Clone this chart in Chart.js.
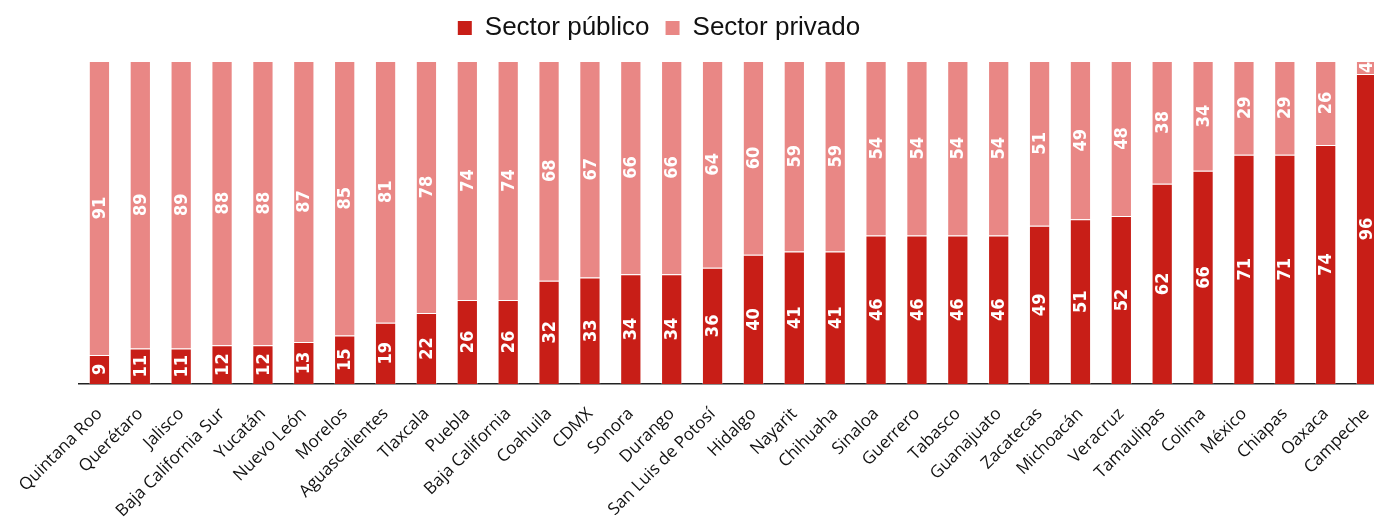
<!DOCTYPE html>
<html>
<head>
<meta charset="utf-8">
<script src="https://cdn.jsdelivr.net/npm/chart.js@4"></script>
<style>
  html, body { margin: 0; padding: 0; background: #fff; overflow: hidden; }
  #wrap { position: relative; width: 1401px; height: 545px; }
</style>
</head>
<body>
<div id="wrap"><canvas id="chart"></canvas></div>
<script>
/* ── DATA ───────────────────────────── */
const estados = ['Quintana Roo','Querétaro','Jalisco','Baja California Sur','Yucatán','Nuevo León','Morelos',
  'Aguascalientes','Tlaxcala','Puebla','Baja California','Coahuila','CDMX','Sonora','Durango',
  'San Luis de Potosí','Hidalgo','Nayarit','Chihuaha','Sinaloa','Guerrero','Tabasco','Guanajuato',
  'Zacatecas','Michoacán','Veracruz','Tamaulipas','Colima','México','Chiapas','Oaxaca','Campeche'];
const publico = [9,11,11,12,12,13,15,19,22,26,26,32,33,34,34,36,40,41,41,46,46,46,46,49,51,52,62,66,71,71,74,96];
const privado = [91,89,89,88,88,87,85,81,78,74,74,68,67,66,66,64,60,59,59,54,54,54,54,51,49,48,38,34,29,29,26,4];

const RED   = '#C81E17';
const PINK  = '#E98785';

/* ── VALUE LABELS ───────────────────── */
const barLabels = {
  id: 'barLabels',
  afterDatasetsDraw(chart) {
    const ctx = chart.ctx;
    ctx.save();
    ctx.fillStyle = '#fff';
    ctx.font = 'bold 18px "DejaVu Sans Condensed", "DejaVu Sans"';
    ctx.textAlign = 'center';
    ctx.textBaseline = 'middle';
    chart.data.datasets.forEach((ds, i) => {
      chart.getDatasetMeta(i).data.forEach((bar, j) => {
        const y = (bar.y + bar.base) / 2;
        ctx.save();
        ctx.translate(bar.x + 1, y);
        ctx.rotate(-Math.PI / 2);
        ctx.fillText(String(ds.data[j]), 0, 0);
        ctx.restore();
      });
    });
    ctx.restore();
  }
};

// legend sits a bit left of the plot centre and higher than chart.js puts it
const legendShift = {
  id: 'legendShift',
  afterLayout(chart) {
    const lg = chart.legend;
    lg.left = 0;
    lg.right = 1318;
    lg.top -= 10;
  }
};

new Chart(document.getElementById('chart'), {
  type: 'bar',
  data: {
    labels: estados,
    datasets: [
      { label: 'Sector público', data: publico, backgroundColor: RED,
        borderColor: 'rgba(255,255,255,0.3)', borderWidth: 1, borderSkipped: 'start' },
      { label: 'Sector privado', data: privado, backgroundColor: PINK,
        borderColor: 'rgba(255,255,255,0.3)', borderWidth: 1, borderSkipped: 'start' }
    ]
  },
  options: {
    responsive: true,
    maintainAspectRatio: false,
    animation: false,
    layout: { padding: { top: 9, left: 79, right: 0, bottom: 0 } },
    datasets: { bar: { categoryPercentage: 1, barPercentage: 0.52 } },
    plugins: {
      legend: {
        position: 'top',
        labels: {
          boxWidth: 14, boxHeight: 14, padding: 16,
          color: '#111',
          font: { family: '"Liberation Sans", Arial, sans-serif', size: 26 },
          generateLabels(chart) {
            const items = Chart.defaults.plugins.legend.labels.generateLabels(chart);
            items.forEach(it => { it.lineWidth = 0; });
            return items;
          }
        }
      },
      tooltip: { enabled: false }
    },
    scales: {
      x: {
        stacked: true,
        grid: { display: false, drawTicks: false },
        border: { display: true, color: '#222', width: 1.5 },
        afterFit(scale) { scale.height = 161; },
        ticks: {
          autoSkip: false, minRotation: 45, maxRotation: 45, padding: 20,
          color: '#111',
          font: { family: '"Open Sans", sans-serif', size: 17 }
        }
      },
      y: {
        stacked: true, min: 0, max: 100, display: false
      }
    }
  },
  plugins: [barLabels, legendShift]
});
</script>
</body>
</html>
